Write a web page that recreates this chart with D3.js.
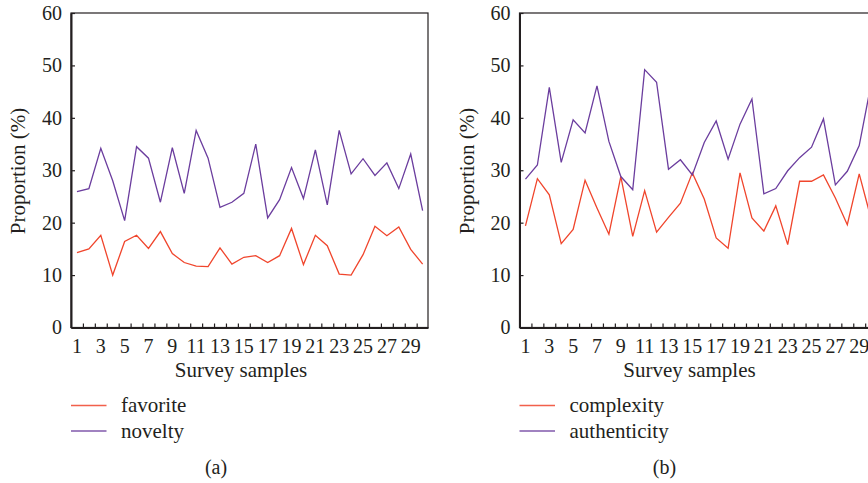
<!DOCTYPE html>
<style>
    body { margin: 0; background: #fff; }
    svg text { font-family: 'Liberation Serif', 'DejaVu Serif', serif; fill: #231f20; }
</style>
<svg width="868" height="483"></svg>
<script src="https://d3js.org/d3.v7.min.js"></script>
<script>
    // survey samples 1..30
    var samples = d3.range(1, 31);
    var yTicks = [0, 10, 20, 30, 40, 50, 60];
    var xTickLabels = d3.range(1, 30, 2);

    // panel (a)
    var favorite = [14.3, 15.0, 17.6, 10.0, 16.4, 17.6, 15.1, 18.3, 14.1, 12.4,
                    11.7, 11.6, 15.2, 12.1, 13.4, 13.7, 12.4, 13.7, 18.9, 12.0,
                    17.6, 15.6, 10.2, 10.0, 13.9, 19.3, 17.5, 19.2, 14.9, 12.1];
    var novelty = [25.9, 26.5, 34.2, 28.0, 20.4, 34.5, 32.3, 23.9, 34.3, 25.6,
                   37.6, 32.3, 22.9, 23.9, 25.6, 35.0, 20.9, 24.4, 30.5, 24.6,
                   33.9, 23.4, 37.6, 29.3, 32.2, 29.0, 31.4, 26.5, 33.1, 22.3];

    // panel (b)
    var complexity = [19.4, 28.4, 25.3, 16.0, 18.7, 28.1, 22.8, 17.8, 28.8, 17.4,
                      26.1, 18.2, 21.0, 23.7, 29.5, 24.5, 17.1, 15.1, 29.5, 20.9,
                      18.4, 23.2, 15.8, 27.9, 27.9, 29.1, 24.7, 19.6, 29.3, 20.7];
    var authenticity = [28.3, 31.0, 45.8, 31.5, 39.6, 37.1, 46.1, 35.5, 28.8, 26.3,
                        49.2, 46.8, 30.2, 32.0, 29.1, 35.3, 39.4, 32.1, 38.8, 43.6,
                        25.5, 26.5, 29.9, 32.4, 34.4, 39.8, 27.2, 29.8, 34.7, 46.5];

    var red = "#f0452c", purple = "#6b3d9e";

    var svg = d3.select("svg");

    function panel(left, s1, s2, names, tag) {
        var x = d3.scaleLinear().domain([0.5, 30.45]).range([left, left + 357]);
        var y = d3.scaleLinear().domain([0, 60]).range([327.5, 13]);
        var g = svg.append("g");

        // frame
        g.append("rect")
            .attr("x", x(0.5)).attr("y", y(60))
            .attr("width", x(30.45) - x(0.5)).attr("height", y(0) - y(60))
            .attr("fill", "none").attr("stroke", "#231f20").attr("stroke-width", 1.2);

        // y axis (ticks inward)
        var ya = g.append("g")
            .attr("transform", "translate(" + x(0.5) + ",0)")
            .call(d3.axisLeft(y).tickValues(yTicks).tickSizeInner(-4).tickSizeOuter(0).tickPadding(9));
        ya.select(".domain").attr("stroke", "#231f20").attr("stroke-width", 2);
        ya.selectAll("line").attr("stroke", "#231f20").attr("stroke-width", 1.2);
        ya.selectAll("text").attr("font-size", 20).attr("fill", "#231f20")
            .style("font-family", "'Liberation Serif', serif");

        // x axis: ticks between samples, labels on odd samples
        var xa = g.append("g")
            .attr("transform", "translate(0," + y(0) + ")")
            .call(d3.axisBottom(x).tickValues(d3.range(1.5, 30, 1)).tickSizeInner(-4).tickSizeOuter(0).tickFormat(""));
        xa.select(".domain").attr("stroke", "#231f20").attr("stroke-width", 2);
        xa.selectAll("line").attr("stroke", "#231f20").attr("stroke-width", 1.2);

        g.selectAll(".xl").data(xTickLabels).enter().append("text")
            .attr("x", function(d) { return x(d); })
            .attr("y", 352.5)
            .attr("text-anchor", "middle")
            .attr("font-size", 20)
            .text(function(d) { return d; });

        g.append("text")
            .attr("x", left + 170).attr("y", 377)
            .attr("text-anchor", "middle").attr("font-size", 21)
            .text("Survey samples");

        g.append("text")
            .attr("transform", "translate(" + (left - 46) + ",171) rotate(-90)")
            .attr("text-anchor", "middle").attr("font-size", 21)
            .text("Proportion (%)");

        var line = d3.line()
            .x(function(d, i) { return x(samples[i]); })
            .y(function(d) { return y(d); });

        g.append("path").datum(s1).attr("d", line)
            .attr("fill", "none").attr("stroke", red).attr("stroke-width", 1.3);
        g.append("path").datum(s2).attr("d", line)
            .attr("fill", "none").attr("stroke", purple).attr("stroke-width", 1.3);

        // legend
        var lg = g.selectAll(".lg").data([[names[0], red], [names[1], purple]]).enter().append("g")
            .attr("transform", function(d, i) { return "translate(" + left + "," + (405.5 + i * 25.5) + ")"; });
        lg.append("line").attr("x1", 0).attr("x2", 35.5)
            .attr("stroke", function(d) { return d[1]; }).attr("stroke-width", 1.5).attr("opacity", 0.85);
        lg.append("text").attr("x", 50).attr("y", 6.5).attr("font-size", 21)
            .text(function(d) { return d[0]; });

        g.append("text")
            .attr("x", left + 145).attr("y", 474)
            .attr("text-anchor", "middle").attr("font-size", 20)
            .text(tag);
    }

    panel(71, favorite, novelty, ["favorite", "novelty"], "(a)");
    panel(519.5, complexity, authenticity, ["complexity", "authenticity"], "(b)");
</script>
